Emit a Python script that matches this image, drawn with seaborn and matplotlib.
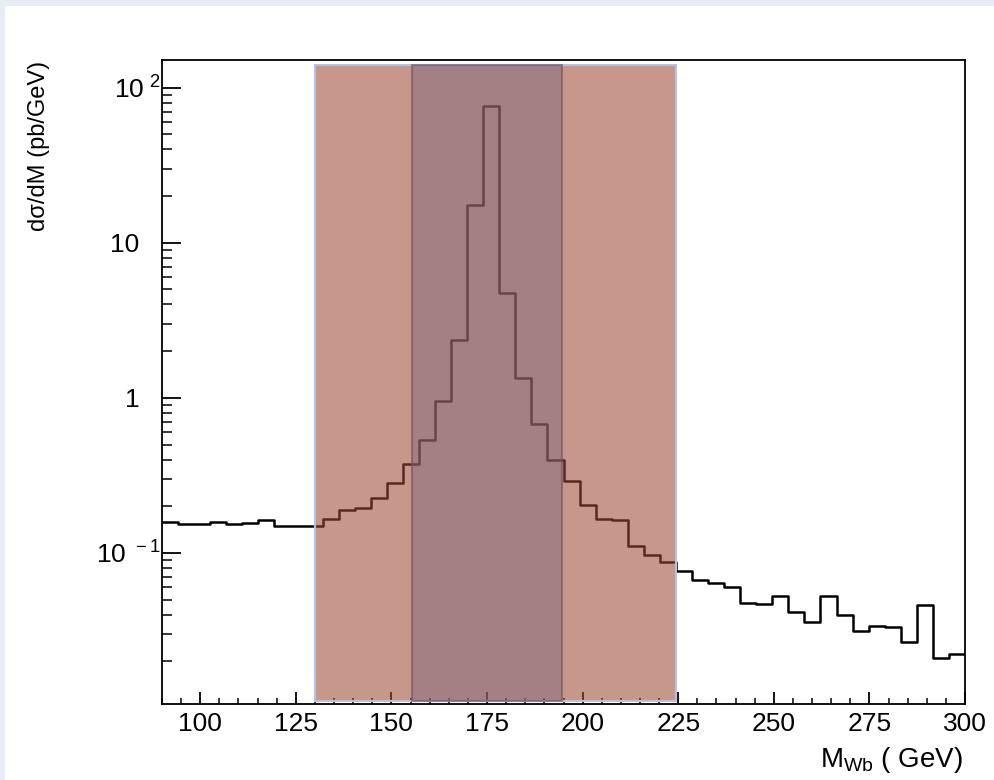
import numpy as np
import pandas as pd
import matplotlib
matplotlib.use("Agg")
import matplotlib.pyplot as plt
from matplotlib.patches import Rectangle
from matplotlib.ticker import MultipleLocator, LogLocator, NullFormatter
import seaborn as sns

# M_Wb histogram, 50 bins from 90 to 300 GeV
bin_edges = np.linspace(90, 300, 51)
dsigma = [0.158, 0.153, 0.153, 0.159, 0.153, 0.157, 0.162, 0.149, 0.149, 0.150,
          0.166, 0.189, 0.194, 0.225, 0.284, 0.377, 0.533, 0.957, 2.37, 17.6,
          76.2, 4.71, 1.35, 0.676, 0.398, 0.292, 0.204, 0.166, 0.163, 0.111,
          0.0975, 0.0871, 0.0769, 0.067, 0.0637, 0.060, 0.0475, 0.0469, 0.0525, 0.0418,
          0.0357, 0.053, 0.0396, 0.0314, 0.0336, 0.0333, 0.0267, 0.0464, 0.021, 0.0223]
wide_window = (130, 224.5)
narrow_window = (155.3, 194.6)

x_ticks = [100, 125, 150, 175, 200, 225, 250, 275, 300]
y_ticks = [0.1, 1, 10, 100]
y_ticklabels = [r"$\mathregular{10^{\ -1}}$", "1   ", "10   ", r"$\mathregular{10^{\ 2}}$"]

sns.set_theme(style="white")
plt.rcParams['font.family'] = ['Liberation Sans', 'DejaVu Sans']
plt.rcParams['text.color'] = 'black'
plt.rcParams['xtick.color'] = 'black'
plt.rcParams['ytick.color'] = 'black'

fig = plt.figure(figsize=(9.94, 7.8), dpi=100, facecolor='#e6edf5')
fig.patches.append(Rectangle((5 / 994, 0), 1, 1 - 6 / 780, transform=fig.transFigure,
                             facecolor='white', edgecolor='none', zorder=-10))
ax = fig.add_axes([162 / 994, 1 - 704 / 780, 803 / 994, 644 / 780])
ax.set_facecolor('white')

df = pd.DataFrame({
    "mass": 0.5 * (bin_edges[:-1] + bin_edges[1:]),
    "dsigma": dsigma,
})
sns.histplot(data=df, x="mass", weights="dsigma", bins=list(bin_edges), element="step",
             fill=False, color="black", linewidth=1.8, ax=ax, zorder=2)
ax.set_yscale("log")

# selection windows drawn over the histogram
ax.axvspan(*wide_window, ymin=0.005, ymax=0.992,
           facecolor=(158 / 255, 72 / 255, 52 / 255, 0.57), edgecolor='#b7c3de',
           linewidth=1.5, zorder=3)
ax.axvspan(*narrow_window, ymin=0.005, ymax=0.992,
           facecolor=(124 / 255, 101 / 255, 128 / 255, 0.46),
           edgecolor=(110 / 255, 80 / 255, 95 / 255, 0.6), linewidth=1.5, zorder=4)

ax.set_xlim(90, 300)
ax.set_ylim(0.0106, 151)
ax.set_xticks(x_ticks)
ax.set_xticklabels([str(t) for t in x_ticks])
ax.xaxis.set_minor_locator(MultipleLocator(5))
ax.set_yticks(y_ticks)
ax.set_yticklabels(y_ticklabels)
ax.yaxis.set_minor_locator(LogLocator(base=10, subs=np.arange(2, 10)))
ax.yaxis.set_minor_formatter(NullFormatter())

ax.tick_params(axis='x', which='major', direction='in', length=9, width=1.3,
               labelsize=19, pad=6, bottom=True, top=False)
ax.tick_params(axis='x', which='minor', direction='in', length=4.5, width=1.1,
               bottom=True, top=False)
ax.tick_params(axis='y', which='major', direction='in', length=14, width=1.3,
               labelsize=19, pad=0.5, left=True, right=False)
ax.tick_params(axis='y', which='minor', direction='in', length=7, width=1.1,
               left=True, right=False)
for s in ax.spines.values():
    s.set_color('black')
    s.set_linewidth(1.3)

ax.set_xlabel("")
ax.set_ylabel("")
fig.text(39 / 994, 1 - 61 / 780, "dσ/dM (pb/GeV)", rotation=90, ha='center', va='top',
         fontsize=17)
fig.text(963 / 994, 1 - 767 / 780, r"$\mathregular{M_{Wb}}$ ( GeV)", ha='right',
         va='baseline', fontsize=20)

fig.savefig("out.png", dpi=100, facecolor=fig.get_facecolor())
